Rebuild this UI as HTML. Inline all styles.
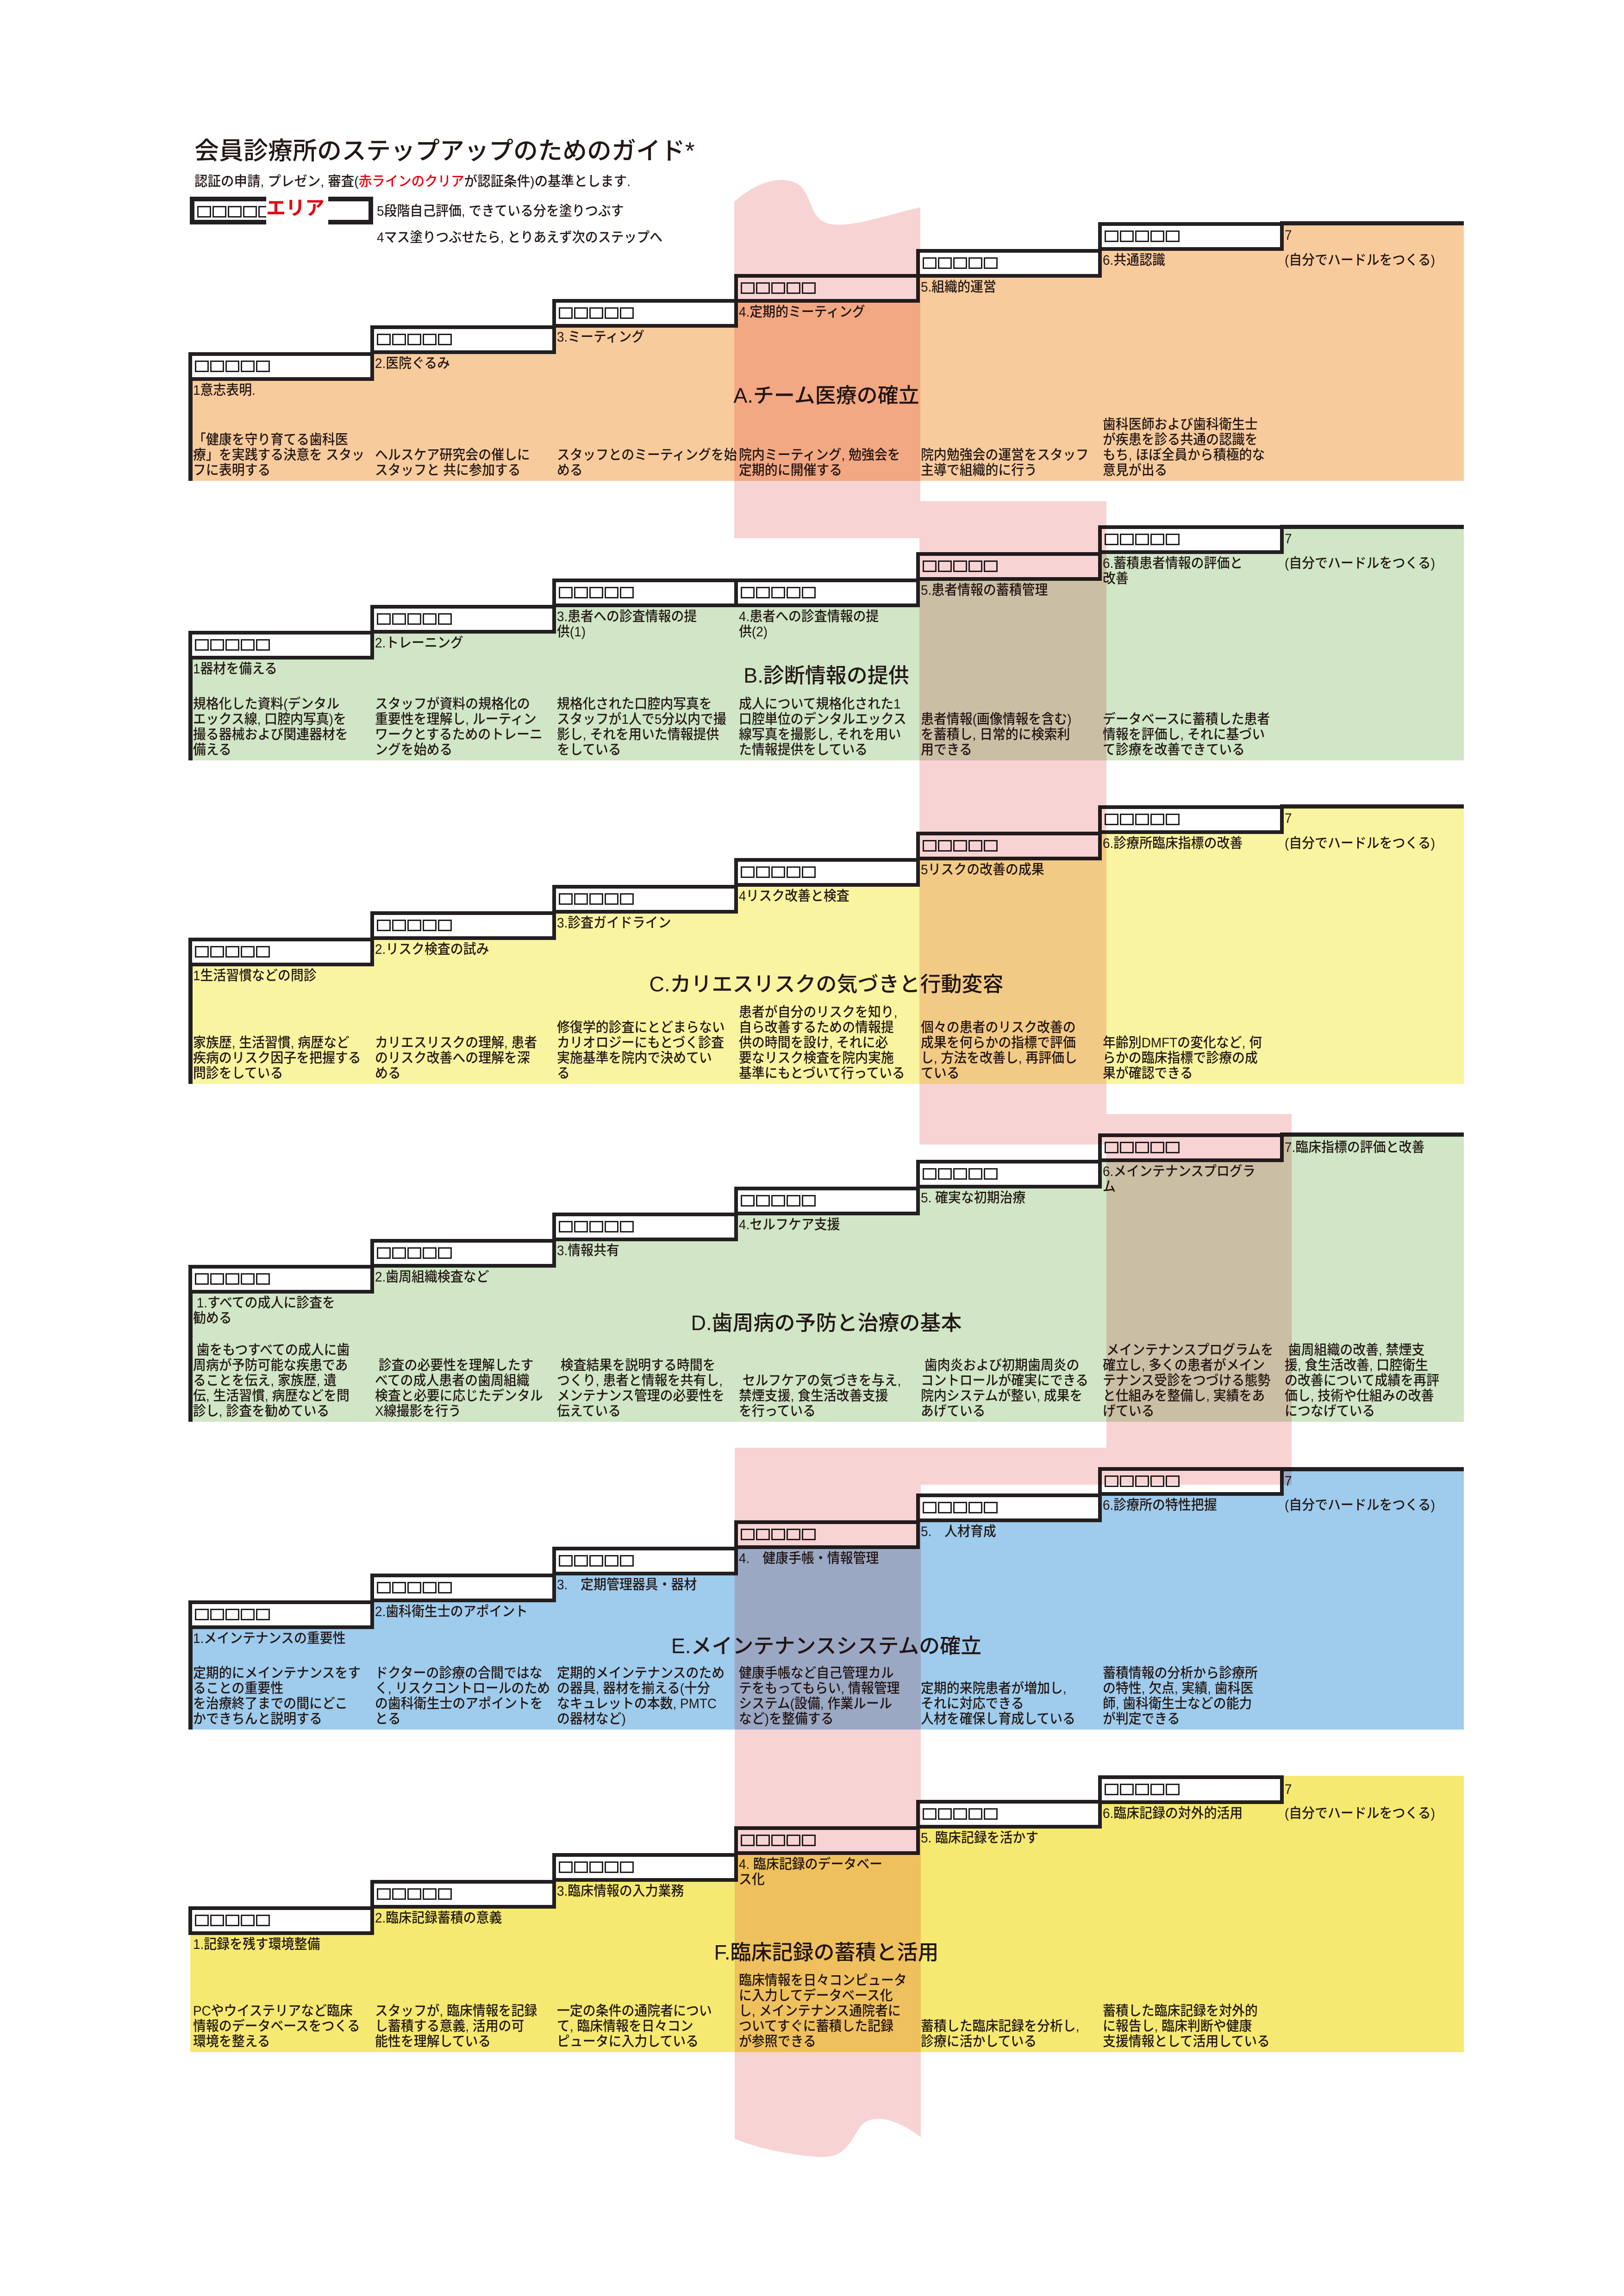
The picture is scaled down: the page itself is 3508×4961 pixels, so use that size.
<!DOCTYPE html>
<html><head><meta charset="utf-8">
<style>
html,body{margin:0;padding:0;background:#fff}
body{width:3508px;height:4961px;position:relative;overflow:hidden;font-family:"Liberation Sans","Noto Sans CJK JP",sans-serif;color:#231815}
.f{position:absolute;width:393px}
.b{position:absolute;width:401px;height:62px;border:8px solid #231f20;background:#fff;box-sizing:border-box;padding:10px 0 0 6px;white-space:nowrap;font-size:0}
.b i{display:inline-block;width:24px;height:19px;border:3.5px solid #231f20;margin-right:3px}
.t{position:absolute;font-size:30px;line-height:33px;font-weight:500;white-space:nowrap;transform:scaleX(.93);transform-origin:0 0}
.d{position:absolute;font-size:30px;line-height:33px;font-weight:500;white-space:nowrap;transform:scaleX(.93);transform-origin:0 100%}
.h{position:absolute;left:1785px;font-size:45px;line-height:50px;font-weight:500;white-space:nowrap;transform:translate(-50%,-50%)}
.ll{position:absolute;left:407px;width:9px;background:#231f20}
.cl{position:absolute;left:2765px;width:397px;height:9px;background:#231f20}
.A{background:#f8cb9d}.B{background:#d0e6c6}.C{background:#f8f4a0}.E{background:#9fcbec}.F{background:#f5e971}
</style></head><body>

<div style="position:absolute;left:420px;top:294px;font-size:53px;line-height:66px;font-weight:500;white-space:nowrap">会員診療所のステップアップのためのガイド*</div>
<div style="position:absolute;left:420px;top:375px;font-size:30px;line-height:36px;font-weight:500;white-space:nowrap;transform:scaleX(.95);transform-origin:0 0">認証の申請, プレゼン, 審査(<span style="color:#e60012">赤ラインのクリア</span>が認証条件)の基準とします.</div>
<div class="b" style="left:410px;top:425px;width:396px;height:60px;border-width:10px"><i></i><i></i><i></i><i></i><i></i></div>
<div style="position:absolute;left:575px;top:420px;width:134px;height:70px;background:#fff;color:#e60012;font-weight:bold;font-size:42px;line-height:60px;white-space:nowrap">エリア</div>
<div class="t" style="left:814px;top:440px">5段階自己評価, できている分を塗りつぶす</div>
<div class="t" style="left:814px;top:497px">4マス塗りつぶせたら, とりあえず次のステップへ</div>

<!-- A -->
<div class="f A" style="left:411px;top:761px;height:278px"></div>
<div class="f A" style="left:804px;top:703px;height:336px"></div>
<div class="f A" style="left:1197px;top:646px;height:393px"></div>
<div class="f A" style="left:1590px;top:592px;height:447px"></div>
<div class="f A" style="left:1983px;top:538px;height:501px"></div>
<div class="f A" style="left:2376px;top:480px;height:559px"></div>
<div class="f A" style="left:2769px;top:478px;height:561px"></div>
<div class="ll" style="top:815px;height:224px"></div>
<div class="cl" style="top:478px"></div>
<div class="b" style="left:407px;top:761px"><i></i><i></i><i></i><i></i><i></i></div>
<div class="b" style="left:800px;top:703px"><i></i><i></i><i></i><i></i><i></i></div>
<div class="b" style="left:1193px;top:646px"><i></i><i></i><i></i><i></i><i></i></div>
<div class="b" style="left:1586px;top:592px"><i></i><i></i><i></i><i></i><i></i></div>
<div class="b" style="left:1979px;top:538px"><i></i><i></i><i></i><i></i><i></i></div>
<div class="b" style="left:2372px;top:480px"><i></i><i></i><i></i><i></i><i></i></div>
<div class="t" style="left:417px;top:827px">1意志表明.</div>
<div class="t" style="left:810px;top:769px">2.医院ぐるみ</div>
<div class="t" style="left:1203px;top:712px">3.ミーティング</div>
<div class="t" style="left:1596px;top:658px">4.定期的ミーティング</div>
<div class="t" style="left:1989px;top:604px">5.組織的運営</div>
<div class="t" style="left:2382px;top:546px">6.共通認識</div>
<div class="t" style="left:2775px;top:492px">7</div>
<div class="t" style="left:2775px;top:546px">(自分でハードルをつくる)</div>
<div class="h" style="top:855px">A.チーム医療の確立</div>
<div class="d" style="left:417px;bottom:3928px">「健康を守り育てる歯科医<br>療」を実践する決意を スタッ<br>フに表明する</div>
<div class="d" style="left:810px;bottom:3928px">ヘルスケア研究会の催しに<br>スタッフと 共に参加する</div>
<div class="d" style="left:1203px;bottom:3928px">スタッフとのミーティングを始<br>める</div>
<div class="d" style="left:1596px;bottom:3928px">院内ミーティング, 勉強会を<br>定期的に開催する</div>
<div class="d" style="left:1989px;bottom:3928px">院内勉強会の運営をスタッフ<br>主導で組織的に行う</div>
<div class="d" style="left:2382px;bottom:3928px">歯科医師および歯科衛生士<br>が疾患を診る共通の認識を<br>もち, ほぼ全員から積極的な<br>意見が出る</div>

<!-- B -->
<div class="f B" style="left:411px;top:1363px;height:280px"></div>
<div class="f B" style="left:804px;top:1307px;height:336px"></div>
<div class="f B" style="left:1197px;top:1250px;height:393px"></div>
<div class="f B" style="left:1590px;top:1250px;height:393px"></div>
<div class="f B" style="left:1983px;top:1193px;height:450px"></div>
<div class="f B" style="left:2376px;top:1135px;height:508px"></div>
<div class="f B" style="left:2769px;top:1134px;height:509px"></div>
<div class="ll" style="top:1417px;height:226px"></div>
<div class="cl" style="top:1134px"></div>
<div class="b" style="left:407px;top:1363px"><i></i><i></i><i></i><i></i><i></i></div>
<div class="b" style="left:800px;top:1307px"><i></i><i></i><i></i><i></i><i></i></div>
<div class="b" style="left:1193px;top:1250px"><i></i><i></i><i></i><i></i><i></i></div>
<div class="b" style="left:1586px;top:1250px"><i></i><i></i><i></i><i></i><i></i></div>
<div class="b" style="left:1979px;top:1193px"><i></i><i></i><i></i><i></i><i></i></div>
<div class="b" style="left:2372px;top:1135px"><i></i><i></i><i></i><i></i><i></i></div>
<div class="t" style="left:417px;top:1429px">1器材を備える</div>
<div class="t" style="left:810px;top:1373px">2.トレーニング</div>
<div class="t" style="left:1203px;top:1316px">3.患者への診査情報の提<br>供(1)</div>
<div class="t" style="left:1596px;top:1316px">4.患者への診査情報の提<br>供(2)</div>
<div class="t" style="left:1989px;top:1259px">5.患者情報の蓄積管理</div>
<div class="t" style="left:2382px;top:1201px">6.蓄積患者情報の評価と<br>改善</div>
<div class="t" style="left:2775px;top:1148px">7</div>
<div class="t" style="left:2775px;top:1201px">(自分でハードルをつくる)</div>
<div class="h" style="top:1460px">B.診断情報の提供</div>
<div class="d" style="left:417px;bottom:3324px">規格化した資料(デンタル<br>エックス線, 口腔内写真)を<br>撮る器械および関連器材を<br>備える</div>
<div class="d" style="left:810px;bottom:3324px">スタッフが資料の規格化の<br>重要性を理解し, ルーティン<br>ワークとするためのトレーニ<br>ングを始める</div>
<div class="d" style="left:1203px;bottom:3324px">規格化された口腔内写真を<br>スタッフが1人で5分以内で撮<br>影し, それを用いた情報提供<br>をしている</div>
<div class="d" style="left:1596px;bottom:3324px">成人について規格化された1<br>口腔単位のデンタルエックス<br>線写真を撮影し, それを用い<br>た情報提供をしている</div>
<div class="d" style="left:1989px;bottom:3324px">患者情報(画像情報を含む)<br>を蓄積し, 日常的に検索利<br>用できる</div>
<div class="d" style="left:2382px;bottom:3324px">データベースに蓄積した患者<br>情報を評価し, それに基づい<br>て診療を改善できている</div>

<!-- C -->
<div class="f C" style="left:411px;top:2026px;height:316px"></div>
<div class="f C" style="left:804px;top:1969px;height:373px"></div>
<div class="f C" style="left:1197px;top:1912px;height:430px"></div>
<div class="f C" style="left:1590px;top:1854px;height:488px"></div>
<div class="f C" style="left:1983px;top:1797px;height:545px"></div>
<div class="f C" style="left:2376px;top:1740px;height:602px"></div>
<div class="f C" style="left:2769px;top:1738px;height:604px"></div>
<div class="ll" style="top:2080px;height:262px"></div>
<div class="cl" style="top:1738px"></div>
<div class="b" style="left:407px;top:2026px"><i></i><i></i><i></i><i></i><i></i></div>
<div class="b" style="left:800px;top:1969px"><i></i><i></i><i></i><i></i><i></i></div>
<div class="b" style="left:1193px;top:1912px"><i></i><i></i><i></i><i></i><i></i></div>
<div class="b" style="left:1586px;top:1854px"><i></i><i></i><i></i><i></i><i></i></div>
<div class="b" style="left:1979px;top:1797px"><i></i><i></i><i></i><i></i><i></i></div>
<div class="b" style="left:2372px;top:1740px"><i></i><i></i><i></i><i></i><i></i></div>
<div class="t" style="left:417px;top:2092px">1生活習慣などの問診</div>
<div class="t" style="left:810px;top:2035px">2.リスク検査の試み</div>
<div class="t" style="left:1203px;top:1978px">3.診査ガイドライン</div>
<div class="t" style="left:1596px;top:1920px">4リスク改善と検査</div>
<div class="t" style="left:1989px;top:1863px">5リスクの改善の成果</div>
<div class="t" style="left:2382px;top:1806px">6.診療所臨床指標の改善</div>
<div class="t" style="left:2775px;top:1752px">7</div>
<div class="t" style="left:2775px;top:1806px">(自分でハードルをつくる)</div>
<div class="h" style="top:2127px">C.カリエスリスクの気づきと行動変容</div>
<div class="d" style="left:417px;bottom:2625px">家族歴, 生活習慣, 病歴など<br>疾病のリスク因子を把握する<br>問診をしている</div>
<div class="d" style="left:810px;bottom:2625px">カリエスリスクの理解, 患者<br>のリスク改善への理解を深<br>める</div>
<div class="d" style="left:1203px;bottom:2625px">修復学的診査にとどまらない<br>カリオロジーにもとづく診査<br>実施基準を院内で決めてい<br>る</div>
<div class="d" style="left:1596px;bottom:2625px">患者が自分のリスクを知り,<br>自ら改善するための情報提<br>供の時間を設け, それに必<br>要なリスク検査を院内実施<br>基準にもとづいて行っている</div>
<div class="d" style="left:1989px;bottom:2625px">個々の患者のリスク改善の<br>成果を何らかの指標で評価<br>し, 方法を改善し, 再評価し<br>ている</div>
<div class="d" style="left:2382px;bottom:2625px">年齢別DMFTの変化など, 何<br>らかの臨床指標で診療の成<br>果が確認できる</div>

<!-- D -->
<div class="f B" style="left:411px;top:2733px;height:339px"></div>
<div class="f B" style="left:804px;top:2677px;height:395px"></div>
<div class="f B" style="left:1197px;top:2620px;height:452px"></div>
<div class="f B" style="left:1590px;top:2564px;height:508px"></div>
<div class="f B" style="left:1983px;top:2506px;height:566px"></div>
<div class="f B" style="left:2376px;top:2449px;height:623px"></div>
<div class="f B" style="left:2769px;top:2447px;height:625px"></div>
<div class="ll" style="top:2787px;height:285px"></div>
<div class="cl" style="top:2447px"></div>
<div class="b" style="left:407px;top:2733px"><i></i><i></i><i></i><i></i><i></i></div>
<div class="b" style="left:800px;top:2677px"><i></i><i></i><i></i><i></i><i></i></div>
<div class="b" style="left:1193px;top:2620px"><i></i><i></i><i></i><i></i><i></i></div>
<div class="b" style="left:1586px;top:2564px"><i></i><i></i><i></i><i></i><i></i></div>
<div class="b" style="left:1979px;top:2506px"><i></i><i></i><i></i><i></i><i></i></div>
<div class="b" style="left:2372px;top:2449px"><i></i><i></i><i></i><i></i><i></i></div>
<div class="t" style="left:417px;top:2799px">&nbsp;1.すべての成人に診査を<br>勧める</div>
<div class="t" style="left:810px;top:2743px">2.歯周組織検査など</div>
<div class="t" style="left:1203px;top:2686px">3.情報共有</div>
<div class="t" style="left:1596px;top:2630px">4.セルフケア支援</div>
<div class="t" style="left:1989px;top:2572px">5. 確実な初期治療</div>
<div class="t" style="left:2382px;top:2515px">6.メインテナンスプログラ<br>ム</div>
<div class="t" style="left:2775px;top:2463px">7.臨床指標の評価と改善</div>
<div class="h" style="top:2859px">D.歯周病の予防と治療の基本</div>
<div class="d" style="left:417px;bottom:1895px">&nbsp;歯をもつすべての成人に歯<br>周病が予防可能な疾患であ<br>ることを伝え, 家族歴, 遺<br>伝, 生活習慣, 病歴などを問<br>診し, 診査を勧めている</div>
<div class="d" style="left:810px;bottom:1895px">&nbsp;診査の必要性を理解したす<br>べての成人患者の歯周組織<br>検査と必要に応じたデンタル<br>X線撮影を行う</div>
<div class="d" style="left:1203px;bottom:1895px">&nbsp;検査結果を説明する時間を<br>つくり, 患者と情報を共有し,<br>メンテナンス管理の必要性を<br>伝えている</div>
<div class="d" style="left:1596px;bottom:1895px">&nbsp;セルフケアの気づきを与え,<br>禁煙支援, 食生活改善支援<br>を行っている</div>
<div class="d" style="left:1989px;bottom:1895px">&nbsp;歯肉炎および初期歯周炎の<br>コントロールが確実にできる<br>院内システムが整い, 成果を<br>あげている</div>
<div class="d" style="left:2382px;bottom:1895px">&nbsp;メインテナンスプログラムを<br>確立し, 多くの患者がメイン<br>テナンス受診をつづける態勢<br>と仕組みを整備し, 実績をあ<br>げている</div>
<div class="d" style="left:2775px;bottom:1895px">&nbsp;歯周組織の改善, 禁煙支<br>援, 食生活改善, 口腔衛生<br>の改善について成績を再評<br>価し, 技術や仕組みの改善<br>につなげている</div>

<!-- E -->
<div class="f E" style="left:411px;top:3458px;height:279px"></div>
<div class="f E" style="left:804px;top:3400px;height:337px"></div>
<div class="f E" style="left:1197px;top:3342px;height:395px"></div>
<div class="f E" style="left:1590px;top:3285px;height:452px"></div>
<div class="f E" style="left:1983px;top:3227px;height:510px"></div>
<div class="f E" style="left:2376px;top:3170px;height:567px"></div>
<div class="f E" style="left:2769px;top:3170px;height:567px"></div>
<div class="ll" style="top:3512px;height:225px"></div>
<div class="cl" style="top:3170px"></div>
<div class="b" style="left:407px;top:3458px"><i></i><i></i><i></i><i></i><i></i></div>
<div class="b" style="left:800px;top:3400px"><i></i><i></i><i></i><i></i><i></i></div>
<div class="b" style="left:1193px;top:3342px"><i></i><i></i><i></i><i></i><i></i></div>
<div class="b" style="left:1586px;top:3285px"><i></i><i></i><i></i><i></i><i></i></div>
<div class="b" style="left:1979px;top:3227px"><i></i><i></i><i></i><i></i><i></i></div>
<div class="b" style="left:2372px;top:3170px"><i></i><i></i><i></i><i></i><i></i></div>
<div class="t" style="left:417px;top:3524px">1.メインテナンスの重要性</div>
<div class="t" style="left:810px;top:3466px">2.歯科衛生士のアポイント</div>
<div class="t" style="left:1203px;top:3408px">3.　定期管理器具・器材</div>
<div class="t" style="left:1596px;top:3351px">4.　健康手帳・情報管理</div>
<div class="t" style="left:1989px;top:3293px">5.　人材育成</div>
<div class="t" style="left:2382px;top:3236px">6.診療所の特性把握</div>
<div class="t" style="left:2775px;top:3184px">7</div>
<div class="t" style="left:2775px;top:3236px">(自分でハードルをつくる)</div>
<div class="h" style="top:3557px">E.メインテナンスシステムの確立</div>
<div class="d" style="left:417px;bottom:1230px">定期的にメインテナンスをす<br>ることの重要性<br>を治療終了までの間にどこ<br>かできちんと説明する</div>
<div class="d" style="left:810px;bottom:1230px">ドクターの診療の合間ではな<br>く, リスクコントロールのため<br>の歯科衛生士のアポイントを<br>とる</div>
<div class="d" style="left:1203px;bottom:1230px">定期的メインテナンスのため<br>の器具, 器材を揃える(十分<br>なキュレットの本数, PMTC<br>の器材など)</div>
<div class="d" style="left:1596px;bottom:1230px">健康手帳など自己管理カル<br>テをもってもらい, 情報管理<br>システム(設備, 作業ルール<br>など)を整備する</div>
<div class="d" style="left:1989px;bottom:1230px">定期的来院患者が増加し,<br>それに対応できる<br>人材を確保し育成している</div>
<div class="d" style="left:2382px;bottom:1230px">蓄積情報の分析から診療所<br>の特性, 欠点, 実績, 歯科医<br>師, 歯科衛生士などの能力<br>が判定できる</div>

<!-- F -->
<div class="f F" style="left:411px;top:4119px;height:315px"></div>
<div class="f F" style="left:804px;top:4062px;height:372px"></div>
<div class="f F" style="left:1197px;top:4004px;height:430px"></div>
<div class="f F" style="left:1590px;top:3946px;height:488px"></div>
<div class="f F" style="left:1983px;top:3889px;height:545px"></div>
<div class="f F" style="left:2376px;top:3836px;height:598px"></div>
<div class="f F" style="left:2769px;top:3837px;height:597px"></div>
<div class="b" style="left:407px;top:4119px"><i></i><i></i><i></i><i></i><i></i></div>
<div class="b" style="left:800px;top:4062px"><i></i><i></i><i></i><i></i><i></i></div>
<div class="b" style="left:1193px;top:4004px"><i></i><i></i><i></i><i></i><i></i></div>
<div class="b" style="left:1586px;top:3946px"><i></i><i></i><i></i><i></i><i></i></div>
<div class="b" style="left:1979px;top:3889px"><i></i><i></i><i></i><i></i><i></i></div>
<div class="b" style="left:2372px;top:3836px"><i></i><i></i><i></i><i></i><i></i></div>
<div class="t" style="left:417px;top:4185px">1.記録を残す環境整備</div>
<div class="t" style="left:810px;top:4128px">2.臨床記録蓄積の意義</div>
<div class="t" style="left:1203px;top:4070px">3.臨床情報の入力業務</div>
<div class="t" style="left:1596px;top:4012px">4. 臨床記録のデータベー<br>ス化</div>
<div class="t" style="left:1989px;top:3955px">5. 臨床記録を活かす</div>
<div class="t" style="left:2382px;top:3902px">6.臨床記録の対外的活用</div>
<div class="t" style="left:2775px;top:3850px">7</div>
<div class="t" style="left:2775px;top:3902px">(自分でハードルをつくる)</div>
<div class="h" style="top:4219px">F.臨床記録の蓄積と活用</div>
<div class="d" style="left:417px;bottom:533px">PCやウイステリアなど臨床<br>情報のデータベースをつくる<br>環境を整える</div>
<div class="d" style="left:810px;bottom:533px">スタッフが, 臨床情報を記録<br>し蓄積する意義, 活用の可<br>能性を理解している</div>
<div class="d" style="left:1203px;bottom:533px">一定の条件の通院者につい<br>て, 臨床情報を日々コン<br>ピュータに入力している</div>
<div class="d" style="left:1596px;bottom:533px">臨床情報を日々コンピュータ<br>に入力してデータベース化<br>し, メインテナンス通院者に<br>ついてすぐに蓄積した記録<br>が参照できる</div>
<div class="d" style="left:1989px;bottom:533px">蓄積した臨床記録を分析し,<br>診療に活かしている</div>
<div class="d" style="left:2382px;bottom:533px">蓄積した臨床記録を対外的<br>に報告し, 臨床判断や健康<br>支援情報として活用している</div>

<!-- pink ribbon -->
<svg style="position:absolute;left:0;top:0;mix-blend-mode:multiply;pointer-events:none" width="3508" height="4961" viewBox="0 0 3508 4961">
<path fill="#f8d3d4" d="M1586,436 C1620,405 1670,380 1710,392 C1760,405 1740,480 1800,485 C1850,490 1930,460 1988,448 L1988,1163 L1586,1163 Z
M1986,1083 L2390,1083 L2390,2473 L1986,2473 Z
M2390,2407 L2790,2407 L2790,3208 L2390,3208 Z
M1587,3128 L2392,3128 L2392,3208 L1989,3208 L1989,4618 C1940,4580 1880,4560 1855,4600 C1830,4640 1820,4665 1760,4660 C1700,4655 1630,4640 1587,4621 Z"/>
</svg>
</body></html>
